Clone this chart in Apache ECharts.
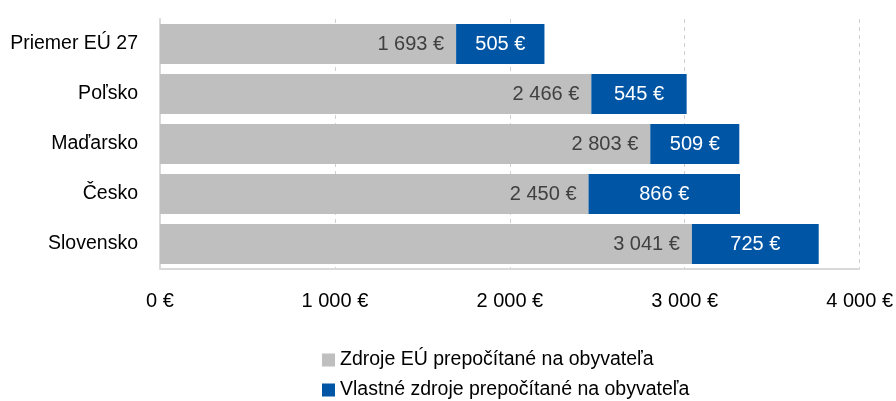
<!DOCTYPE html>
<html><head><meta charset="utf-8">
<script src="https://cdn.jsdelivr.net/npm/echarts@6/dist/echarts.min.js"></script>
<style>html,body{margin:0;padding:0;background:#fff}#c{width:896px;height:401px}</style>
</head><body><div id="c"></div>
<script>
const categories = ['Priemer EÚ 27', 'Poľsko', 'Maďarsko', 'Česko', 'Slovensko'];
const euFunds = [1693, 2466, 2803, 2450, 3041];
const ownFunds = [505, 545, 509, 866, 725];
const seriesNames = ['Zdroje EÚ prepočítané na obyvateľa', 'Vlastné zdroje prepočítané na obyvateľa'];
const xTicks = [0, 1000, 2000, 3000, 4000];

const FONT = '"Liberation Sans", Arial, sans-serif';
function fmt(v){ return String(v).replace(/\B(?=(\d{3})+(?!\d))/g, ' ') + ' €'; }

const chart = echarts.init(document.getElementById('c'), null, {renderer:'canvas'});
chart.setOption({
  animation:false,
  textStyle:{fontFamily:FONT},
  grid:{left:160, right:36, top:19, bottom:132, containLabel:false},
  legend:{
    orient:'vertical', left:317, top:345, height:80, itemGap:10,
    itemWidth:13, itemHeight:13, icon:'rect',
    textStyle:{fontFamily:FONT, fontSize:19.5, color:'#000'},
    data:seriesNames
  },
  xAxis:{
    type:'value', min:xTicks[0], max:xTicks[xTicks.length-1], interval:1000,
    axisLine:{show:false},
    axisTick:{show:false},
    splitLine:{show:true, lineStyle:{type:[4,4], color:'#d0d0d0', width:1}},
    axisLabel:{fontFamily:FONT, fontSize:20, color:'#000', margin:22, formatter:fmt}
  },
  yAxis:{
    type:'category', data:categories, inverse:true,
    axisLine:{show:true, lineStyle:{color:'#d9d9d9', width:2}},
    axisTick:{show:false},
    axisLabel:{fontFamily:FONT, fontSize:19.5, color:'#000', margin:22}
  },
  series:[
    {name:seriesNames[0], type:'bar', stack:'s', data:euFunds, barCategoryGap:'20%',
     itemStyle:{color:'#BFBFBF'},
     label:{show:true, position:'insideRight', distance:12, color:'#404040', fontFamily:FONT, fontSize:20,
       formatter:p=>fmt(p.value)}},
    {name:seriesNames[1], type:'bar', stack:'s', data:ownFunds,
     itemStyle:{color:'#0055A5'},
     label:{show:true, position:'inside', color:'#fff', fontFamily:FONT, fontSize:20,
       formatter:p=>fmt(p.value)},
     markLine:{silent:true, symbol:'none', label:{show:false},
       lineStyle:{color:'#d9d9d9', width:2, type:'solid'},
       data:[[{coord:[0, 4], y:269}, {coord:[4000,4], y:269}]]}}
  ]
});
</script></body></html>
